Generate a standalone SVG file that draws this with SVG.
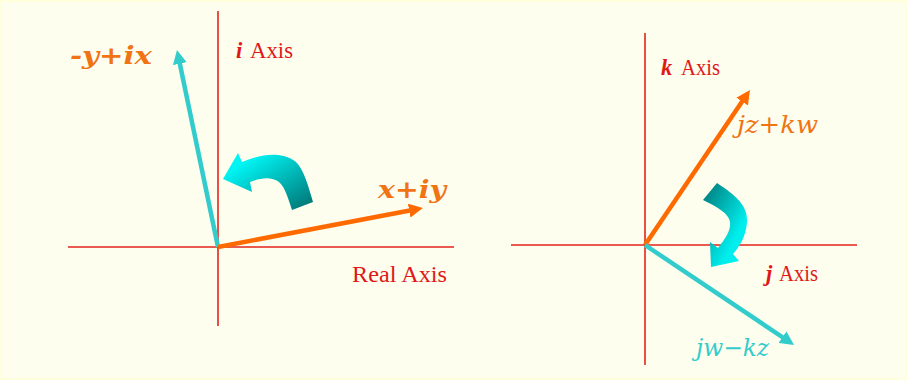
<svg xmlns="http://www.w3.org/2000/svg" width="907" height="380" viewBox="0 0 907 380">
<style>
.axis{stroke:#E3231B;stroke-width:1.6;fill:none}
.vo{stroke:#FF6A00;stroke-width:4.5;fill:none;marker-end:url(#ho)}
.vc{stroke:#33CCCC;stroke-width:4.5;fill:none;marker-end:url(#hc)}
.lab{font-family:"Liberation Serif",serif;font-size:22.5px}
.math{font-family:"DejaVu Serif","Liberation Serif",serif;font-size:24px;font-style:italic}
.m{font-weight:bold;font-style:italic}
.b{font-weight:bold}
.red{fill:#E01818}
.or{fill:#F07314}
.cy{fill:#33CCCC}
</style>
<defs>
<marker id="ho" markerUnits="userSpaceOnUse" markerWidth="14" markerHeight="14" refX="6" refY="7" orient="auto"><path d="M0,0 L14,7 L0,14 z" fill="#FF6A00"/></marker>
<marker id="hc" markerUnits="userSpaceOnUse" markerWidth="14" markerHeight="14" refX="6" refY="7" orient="auto"><path d="M0,0 L14,7 L0,14 z" fill="#33CCCC"/></marker>
<linearGradient id="gl" x1="0" y1="0" x2="1" y2="1"><stop offset="0.2" stop-color="#00F4F4"/><stop offset="1" stop-color="#006E6E"/></linearGradient>
<linearGradient id="gr" x1="0" y1="0" x2="1" y2="1"><stop offset="0" stop-color="#007474"/><stop offset="0.7" stop-color="#00EEEE"/></linearGradient>
</defs>
<rect x="0" y="0" width="907" height="380" fill="#FFFFDC"/>
<rect x="2" y="2" width="903" height="376" fill="#FEFEEE"/>

<g id="left-axes">
<line class="axis" x1="68" y1="247" x2="454" y2="247"/>
<line class="axis" x1="218" y1="11" x2="218" y2="326"/>
</g>
<g id="right-axes">
<line class="axis" x1="511" y1="245" x2="857" y2="245"/>
<line class="axis" x1="645" y1="33" x2="645" y2="365"/>
</g>

<g id="connectors">
<line class="vc" x1="218" y1="247" x2="178.6" y2="57.8"/>
<line class="vo" x1="218" y1="247" x2="415.1" y2="209.5"/>
<line class="vo" x1="645" y1="245" x2="745.5" y2="96.6"/>
<line class="vc" x1="645" y1="245" x2="787.4" y2="340.5"/>
</g>

<g id="rotate-left">
<path d="M223,179 L238,153 L242,162 C258,155 282,150 296,162 C304,170 308,185 313,202 L292,210 C288,198 285,187 279,182 C271,176 260,178 250,182 L252,192 Z" fill="url(#gl)"/>
</g>
<g id="rotate-right">
<path d="M717,183 C735,195 748,205 747,222 C746,236 740,246 733,254 L739,261 L711,267 L710,242 L718,248 C726,238 731,230 730,222 C729,214 718,207 703,200 Z" fill="url(#gr)"/>
</g>

<g id="label-neg">
<text class="math b or" x="70" y="64" textLength="82" lengthAdjust="spacingAndGlyphs">-y+ix</text>
</g>
<g id="label-iaxis">
<text class="lab red" x="236" y="58"><tspan class="m">i</tspan><tspan x="250" textLength="43" lengthAdjust="spacingAndGlyphs">Axis</tspan></text>
</g>
<g id="label-xiy">
<text class="math b or" x="378" y="198" textLength="68" lengthAdjust="spacingAndGlyphs">x+iy</text>
</g>
<g id="label-real">
<text class="lab red" x="352" y="282" textLength="95" lengthAdjust="spacingAndGlyphs">Real Axis</text>
</g>
<g id="label-kaxis">
<text class="lab red" x="661" y="75"><tspan class="m">k</tspan><tspan x="681" textLength="39" lengthAdjust="spacingAndGlyphs">Axis</tspan></text>
</g>
<g id="label-jzkw">
<text class="math or" x="737" y="133" textLength="81" lengthAdjust="spacingAndGlyphs">jz+kw</text>
</g>
<g id="label-jaxis">
<text class="lab red" x="766" y="281"><tspan class="m">j</tspan><tspan x="779" textLength="39" lengthAdjust="spacingAndGlyphs">Axis</tspan></text>
</g>
<g id="label-jwkz">
<text class="math cy" x="696" y="356" textLength="73" lengthAdjust="spacingAndGlyphs">jw−kz</text>
</g>
</svg>
